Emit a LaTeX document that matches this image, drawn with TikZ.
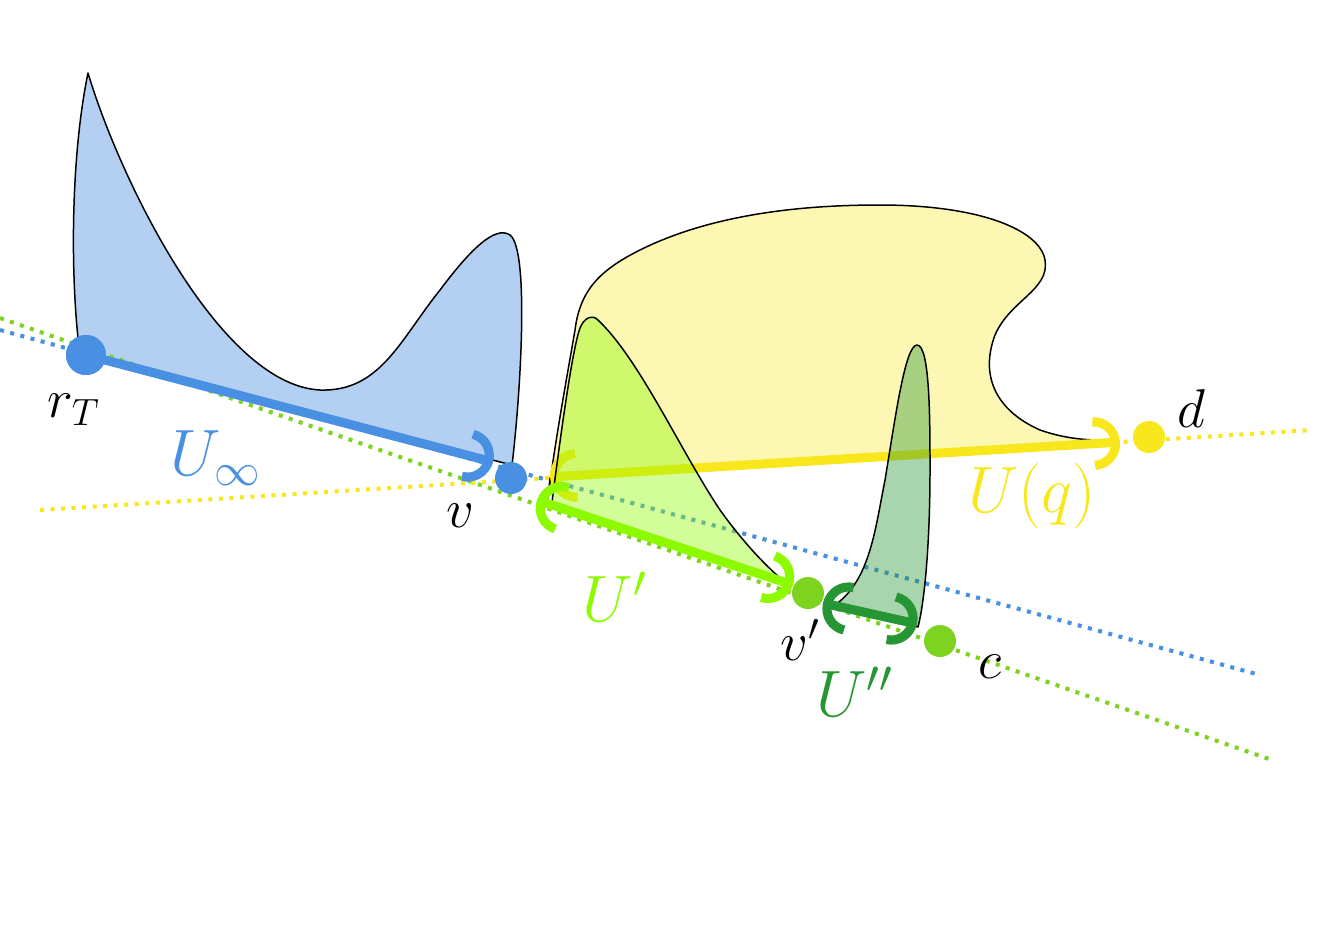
\documentclass[tikz,border=0pt]{standalone}
\usetikzlibrary{arrows.meta}
\definecolor{cblue}{RGB}{74,144,226}
\definecolor{cyellow}{RGB}{248,231,28}
\definecolor{clime}{RGB}{142,250,0}
\definecolor{cgreen}{RGB}{126,211,33}
\definecolor{cdark}{RGB}{38,150,53}
\begin{document}
\begin{tikzpicture}[x=0.02cm,y=-0.02cm,
  outline/.style={draw=black, line width=0.85pt, line join=round},
  guide/.style={line width=2.3pt, dash pattern=on 2.3pt off 3.7pt},
  bar/.style={line width=5.2pt},
  tipb/.tip={Arc Barb[width=30pt,length=15pt]},
  dotnode/.style={circle, inner sep=0pt, minimum size=#1},
  lab/.style={font=\fontsize{20}{24}\selectfont, inner sep=0pt, scale=1.5, transform shape},
  ulab/.style={font=\fontsize{20}{24}\selectfont, inner sep=0pt, scale=1.8, transform shape}]
\useasboundingbox (0,0) rectangle (1324,948);
% named coordinates
\coordinate (bl1) at (0,330);   \coordinate (bl2) at (1260,675);
\coordinate (gl1) at (0,318);   \coordinate (gl2) at (1272,760);
\coordinate (yl1) at (40,510);  \coordinate (yl2) at (1312,430);
\coordinate (ue) at (493,462);
\coordinate (up1) at (537,500); \coordinate (up2) at (793,585);
\coordinate (upp1) at (823,603); \coordinate (upp2) at (917,624);
\coordinate (uq1) at (550,477); \coordinate (uq2) at (1120,442);
% blue region
\path[outline, fill=cblue, fill opacity=0.42]
  (78,338) .. controls (70,260) and (72,150) .. (88,73)
  .. controls (120,180) and (220,385) .. (320,390)
  .. controls (380,392) and (400,340) .. (440,290)
  .. controls (470,250) and (495,225) .. (510,235)
  .. controls (530,250) and (520,400) .. (512,465)
  -- (86,356) -- cycle;
% dotted guide lines
\draw[guide, cblue] (bl1) -- (bl2);
\draw[guide, cgreen] (gl1) -- (gl2);
\draw[guide, cyellow] (yl1) -- (yl2);
% yellow region
\path[outline, fill=cyellow, fill opacity=0.33]
  (548,498) .. controls (555,440) and (570,360) .. (575,330)
  .. controls (580,290) and (600,270) .. (640,250)
  .. controls (720,210) and (820,205) .. (880,205)
  .. controls (980,205) and (1040,230) .. (1045,260)
  .. controls (1050,290) and (1010,300) .. (995,335)
  .. controls (980,375) and (995,410) .. (1040,430)
  .. controls (1060,437) and (1080,440) .. (1100,440)
  -- (550,478) -- cycle;
\draw[bar, cyellow, {tipb}-{tipb}] (uq1) -- (uq2);
% lime region
\path[outline, fill=clime, fill opacity=0.4]
  (552,502) .. controls (560,440) and (572,350) .. (580,328)
  .. controls (584,318) and (592,314) .. (598,320)
  .. controls (640,360) and (680,450) .. (720,510)
  .. controls (745,545) and (770,570) .. (785,582)
  -- cycle;
% dark green region
\path[outline, fill=cdark, fill opacity=0.4]
  (835,605) .. controls (870,580) and (875,530) .. (885,480)
  .. controls (895,420) and (905,345) .. (917,345)
  .. controls (930,345) and (930,420) .. (930,470)
  .. controls (930,540) and (925,600) .. (918,627)
  -- cycle;
% bars
\draw[bar, clime, {tipb}-{tipb}] (up1) -- (up2);
\draw[bar, cdark, {tipb}-{tipb}] (upp1) -- (upp2);
\node[dotnode=0.8cm, fill=cblue] (rT) at (86,355) {};
\draw[bar, cblue, -{tipb}] (rT.center) -- (ue);
\node[dotnode=0.8cm, fill=cblue] at (rT) {};
% dots
\node[dotnode=0.64cm, fill=cblue] (v) at (511,478) {};
\node[dotnode=0.64cm, fill=cgreen] (vp) at (808,593) {};
\node[dotnode=0.64cm, fill=cgreen] (c) at (940,641) {};
\node[dotnode=0.64cm, fill=cyellow] (d) at (1149,437) {};
% labels
\node[lab] (lrT) at (74,410) {$r_T$};
\node[lab] (lv) at (460,516) {$v$};
\node[lab] (lvp) at (800,640) {$v'$};
\node[lab] (lc) at (990,667) {$c$};
\node[lab] (ld) at (1191,409) {$d$};
\node[ulab, text=cblue] (lU) at (216,458) {$U_\infty$};
\node[ulab, text=clime] (lUp) at (615,597) {$U'$};
\node[ulab, text=cdark] (lUpp) at (855,692) {$U''$};
\node[ulab, text=cyellow] (lUq) at (1032,496) {$U(q)$};
\end{tikzpicture}
\end{document}
